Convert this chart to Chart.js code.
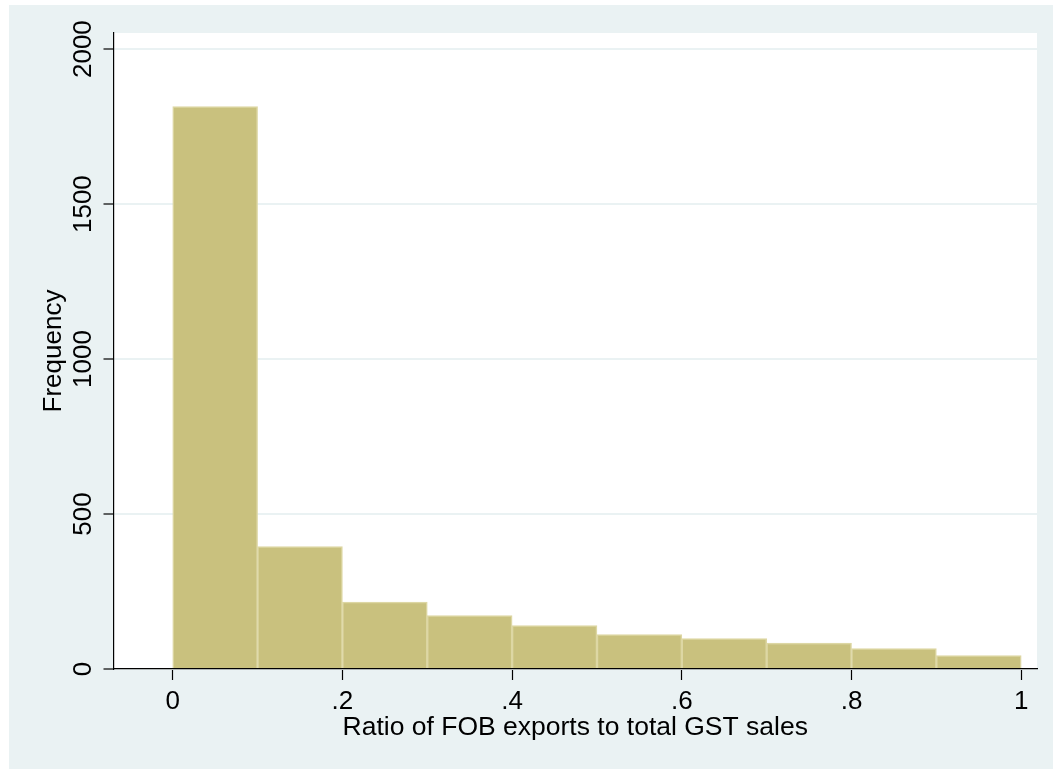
<!DOCTYPE html>
<html>
<head>
<meta charset="utf-8">
<title>Ratio of FOB exports to total GST sales</title>
<script src="https://cdn.jsdelivr.net/npm/chart.js@4.4.1/dist/chart.umd.min.js"></script>
<style>
  html, body { margin: 0; padding: 0; background: #ffffff; }
  #wrap { position: absolute; left: 9px; top: 5px; width: 1044px; height: 764px; background: #eaf2f3; }
</style>
</head>
<body>
<div id="wrap"><canvas id="hist" width="1044" height="764"></canvas></div>
<script>
// Histogram bins (midpoints) and counts
const binMids = [0.05, 0.15, 0.25, 0.35, 0.45, 0.55, 0.65, 0.75, 0.85, 0.95];
const frequencies = [1815, 395, 216, 172, 140, 111, 98, 84, 66, 43];

// Tick labels
const xTickValues = [0, 0.2, 0.4, 0.6, 0.8, 1];
const xTickLabels = ["0", ".2", ".4", ".6", ".8", "1"];
const yTickValues = [0, 500, 1000, 1500, 2000];
const yTickLabels = ["0", "500", "1000", "1500", "2000"];

const fontFamily = "'Liberation Sans', Arial, sans-serif";
const bgColor = "#eaf2f3";

// white plot region
const plotBackground = {
  id: "plotBackground",
  beforeDraw(chart) {
    const { ctx, chartArea } = chart;
    ctx.save();
    ctx.fillStyle = "#ffffff";
    ctx.fillRect(chartArea.left, chartArea.top, chartArea.right - chartArea.left, chartArea.bottom - chartArea.top);
    ctx.restore();
  },
};

const data = {
  datasets: [
    {
      label: "Frequency",
      data: binMids.map((x, i) => ({ x: x, y: frequencies[i] })),
      backgroundColor: "#c9c17e",
      borderColor: "#ddd7a4",
      borderWidth: 1.5,
      barPercentage: 1,
      categoryPercentage: 1,
    },
  ],
};

new Chart(document.getElementById("hist"), {
  type: "bar",
  data: data,
  plugins: [plotBackground],
  options: {
    responsive: false,
    animation: false,
    layout: { padding: { left: 0, top: 28, right: 16, bottom: 0 } },
    plugins: {
      legend: { display: false },
      tooltip: { enabled: false },
    },
    scales: {
      x: {
        type: "linear",
        offset: false,
        min: -0.0698,
        max: 1.0186,
        afterBuildTicks: (scale) => {
          scale.ticks = xTickValues.map((v) => ({ value: v }));
        },
        afterFit: (scale) => { scale.height = 100; },
        grid: {
          offset: false,
          drawOnChartArea: false,
          drawTicks: true,
          tickLength: 11,
          tickColor: "#000000",
          tickWidth: 1.2,
        },
        border: { color: "#000000", width: 1.2 },
        ticks: {
          autoSkip: false,
          maxRotation: 0,
          padding: 6.4,
          color: "#000000",
          font: { family: fontFamily, size: 26 },
          callback: (value, index) => xTickLabels[index],
        },
        title: {
          display: true,
          text: "Ratio of FOB exports to total GST sales",
          color: "#000000",
          font: { family: fontFamily, size: 26.5 },
          padding: { top: 0, bottom: 25.4 },
        },
      },
      y: {
        type: "linear",
        min: 0,
        max: 2052,
        afterBuildTicks: (scale) => {
          scale.ticks = yTickValues.map((v) => ({ value: v }));
        },
        afterFit: (scale) => { scale.width = 104.5; },
        grid: {
          color: bgColor,
          lineWidth: 2,
          drawTicks: true,
          tickLength: 10,
          tickColor: "#000000",
          tickWidth: 1.2,
        },
        border: { color: "#000000", width: 1.2 },
        ticks: {
          autoSkip: false,
          minRotation: 90,
          maxRotation: 90,
          crossAlign: "center",
          padding: -9.1,
          color: "#000000",
          font: { family: fontFamily, size: 26 },
          callback: (value, index) => yTickLabels[index],
        },
        title: {
          display: true,
          text: "Frequency",
          color: "#000000",
          font: { family: fontFamily, size: 26 },
          padding: { top: 29.3, bottom: 0 },
        },
      },
    },
  },
});
</script>
</body>
</html>
